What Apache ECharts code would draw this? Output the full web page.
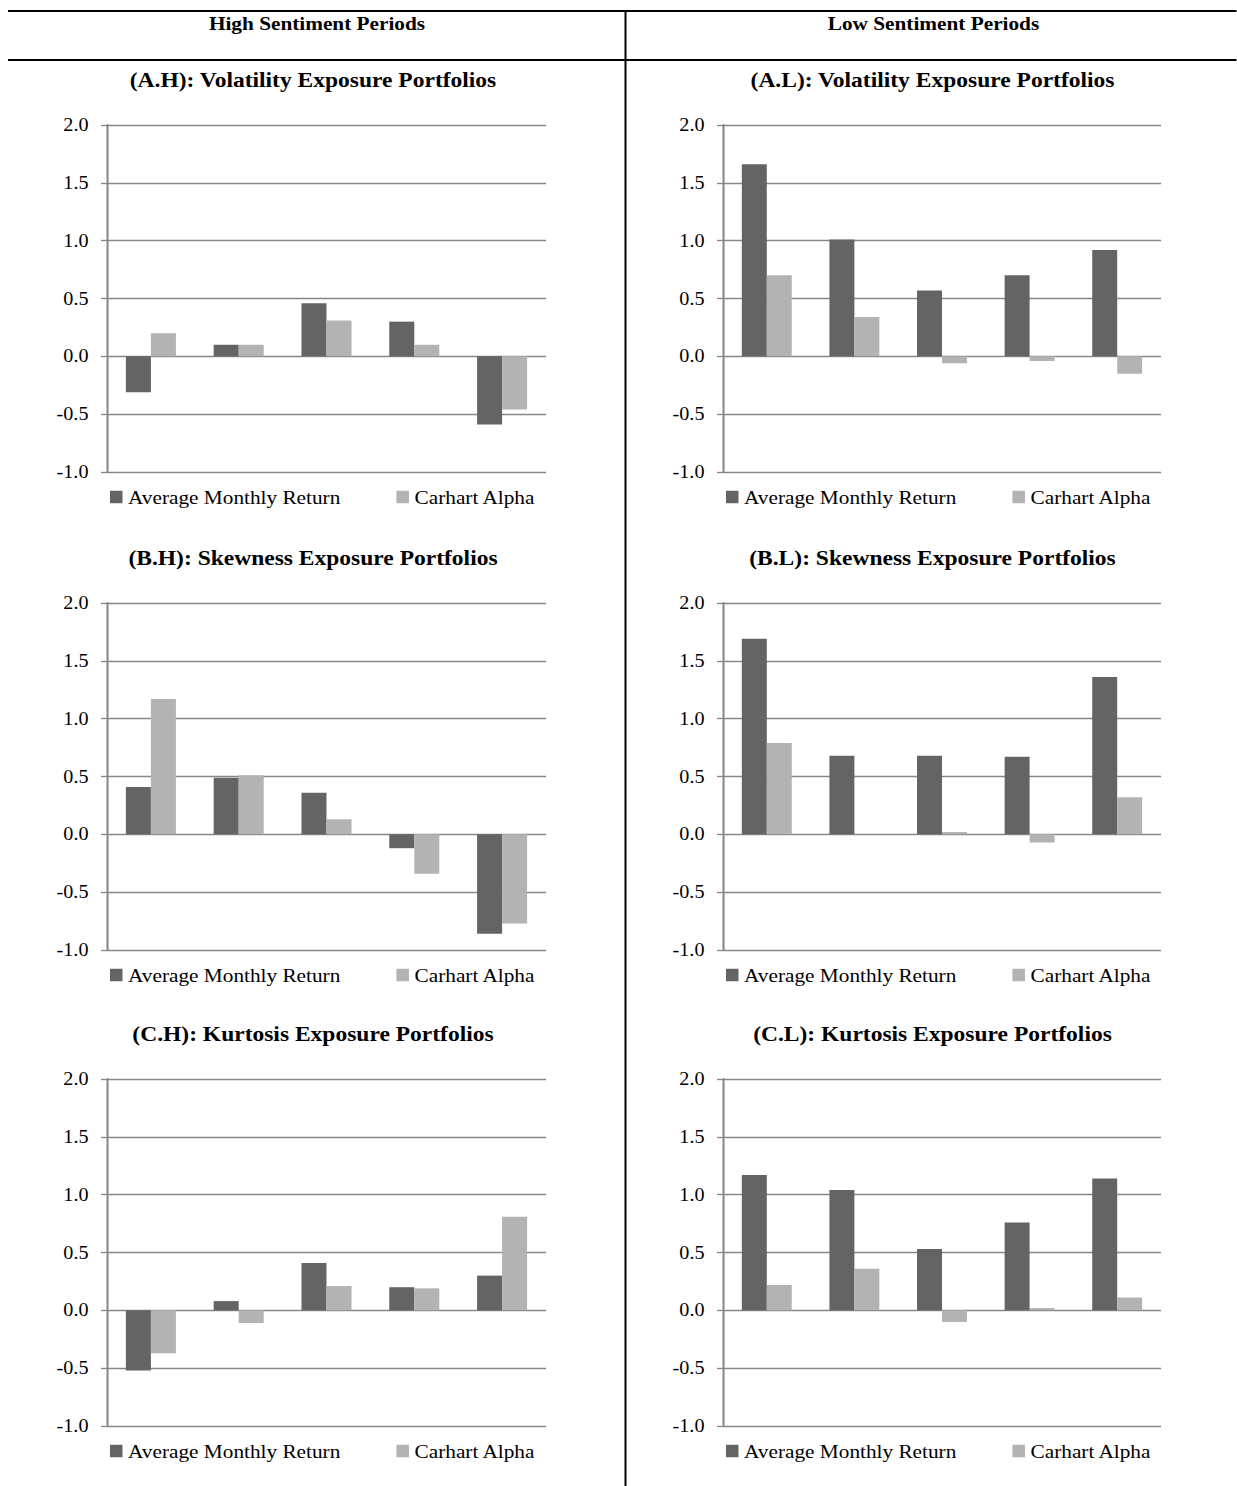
<!DOCTYPE html>
<html>
<head>
<meta charset="utf-8">
<title>Sentiment and Higher-Moment Exposure Portfolios</title>
<script src="https://cdn.jsdelivr.net/npm/echarts/dist/echarts.min.js"></script>
<style>
  html, body { margin: 0; padding: 0; background: #fff; overflow: hidden; }
  #wrap { width: 1237px; height: 1486px; overflow: hidden; }
  #chart { height: 1486px; transform-origin: 0 0; }
</style>
</head>
<body>
<div id="wrap"><div id="chart"></div></div>
<script>
// ---- data ----
const portfolios = ['P1', 'P2', 'P3', 'P4', 'P5'];
const seriesNames = ['Average Monthly Return', 'Carhart Alpha'];
const yTicks = [-1.0, -0.5, 0.0, 0.5, 1.0, 1.5, 2.0];
const columnHeaders = ['High Sentiment Periods', 'Low Sentiment Periods'];
const panelTitles = [
  '(A.H): Volatility Exposure Portfolios', '(A.L): Volatility Exposure Portfolios',
  '(B.H): Skewness Exposure Portfolios',   '(B.L): Skewness Exposure Portfolios',
  '(C.H): Kurtosis Exposure Portfolios',   '(C.L): Kurtosis Exposure Portfolios'
];

const volHighReturn  = [-0.31, 0.10, 0.46, 0.30, -0.59];
const volHighAlpha   = [0.20, 0.10, 0.31, 0.10, -0.46];
const volLowReturn   = [1.66, 1.01, 0.57, 0.70, 0.92];
const volLowAlpha    = [0.70, 0.34, -0.06, -0.04, -0.15];
const skewHighReturn = [0.41, 0.49, 0.36, -0.12, -0.86];
const skewHighAlpha  = [1.17, 0.51, 0.13, -0.34, -0.77];
const skewLowReturn  = [1.69, 0.68, 0.68, 0.67, 1.36];
const skewLowAlpha   = [0.79, 0.00, 0.02, -0.07, 0.32];
const kurtHighReturn = [-0.52, 0.08, 0.41, 0.20, 0.30];
const kurtHighAlpha  = [-0.37, -0.11, 0.21, 0.19, 0.81];
const kurtLowReturn  = [1.17, 1.04, 0.53, 0.76, 1.14];
const kurtLowAlpha   = [0.22, 0.36, -0.10, 0.02, 0.11];

const panelData = [
  [volHighReturn, volHighAlpha],   [volLowReturn, volLowAlpha],
  [skewHighReturn, skewHighAlpha], [skewLowReturn, skewLowAlpha],
  [kurtHighReturn, kurtHighAlpha], [kurtLowReturn, kurtLowAlpha]
];

// ---- layout ----
// The page text is set in a slightly widened serif: the whole drawing is
// laid out in a narrower space and stretched horizontally by SX.
const SX = 1.12;
const PAGE_W = 1237, PAGE_H = 1486;
const W0 = PAGE_W / SX;
const cx = x => x / SX;

const colLeft = [107, 723];
const colRight = [546, 1161];
const colCenter = [313, 932.5];
const headerCenter = [317, 933.5];
const rowTop = [125, 603, 1079];
const plotH = 347;
const legendLeft = [110, 726];

const SERIF = '"Liberation Serif", "Times New Roman", Times, serif';
const COLORS = ['#646464', '#b3b3b3'];

const dom = document.getElementById('chart');
dom.style.width = W0 + 'px';
dom.style.transform = 'scaleX(' + SX + ')';

const chart = echarts.init(dom, null, { renderer: 'svg', width: W0, height: PAGE_H });

const grids = [], xAxes = [], yAxes = [], series = [], legends = [], graphics = [];

panelData.forEach((pair, i) => {
  const col = i % 2, row = Math.floor(i / 2);
  grids.push({
    left: cx(colLeft[col]),
    width: cx(colRight[col] - colLeft[col]),
    top: rowTop[row],
    height: plotH,
    outerBoundsMode: 'none',
    containLabel: false
  });
  xAxes.push({
    type: 'category', gridIndex: i, data: portfolios,
    axisLine: { show: false }, axisTick: { show: false },
    axisLabel: { show: false }, splitLine: { show: false }
  });
  yAxes.push({
    type: 'value', gridIndex: i,
    min: yTicks[0], max: yTicks[yTicks.length - 1], interval: 0.5,
    axisLine: { show: true, lineStyle: { color: '#858585', width: 1.8 } },
    axisTick: { show: true, inside: false, length: cx(6), lineStyle: { color: '#878787', width: 1.3 } },
    axisLabel: {
      margin: cx(18.5), fontFamily: SERIF, fontSize: 18, color: '#000',
      formatter: v => Number(v).toFixed(1)
    },
    splitLine: { show: true, lineStyle: { color: '#878787', width: 1.3 } }
  });
  pair.forEach((vals, k) => {
    series.push({
      type: 'bar', name: seriesNames[k],
      xAxisIndex: i, yAxisIndex: i,
      data: vals,
      barGap: '0%', barCategoryGap: '43%',
      itemStyle: { color: COLORS[k] },
      emphasis: { disabled: true },
      animation: false
    });
  });
  legends.push({
    data: seriesNames,
    left: cx(legendLeft[col]),
    top: rowTop[row] + plotH + 15,
    padding: 0,
    icon: 'rect',
    itemWidth: cx(12.5), itemHeight: 12.5, itemGap: 50,
    selectedMode: false,
    textStyle: { fontFamily: SERIF, fontSize: 19, color: '#000', lineHeight: 20 }
  });
  graphics.push({
    type: 'text', x: cx(colCenter[col]), y: rowTop[row] - 44.8,
    style: {
      text: panelTitles[i], fill: '#000',
      font: 'bold 21px ' + SERIF,
      align: 'center', verticalAlign: 'middle',
      textAlign: 'center', textVerticalAlign: 'middle'
    }
  });
});

// table rules and column headers
graphics.push(
  { type: 'line', shape: { x1: cx(8), y1: 11, x2: W0, y2: 11 }, style: { stroke: '#000', lineWidth: 2 } },
  { type: 'line', shape: { x1: cx(8), y1: 60, x2: W0, y2: 60 }, style: { stroke: '#000', lineWidth: 2 } },
  { type: 'line', shape: { x1: cx(625.5), y1: 11, x2: cx(625.5), y2: PAGE_H }, style: { stroke: '#000', lineWidth: 2 / SX } }
);
columnHeaders.forEach((h, c) => {
  graphics.push({
    type: 'text', x: cx(headerCenter[c]), y: 23,
    style: {
      text: h, fill: '#000', font: 'bold 19px ' + SERIF,
      align: 'center', verticalAlign: 'middle',
      textAlign: 'center', textVerticalAlign: 'middle'
    }
  });
});

chart.setOption({
  backgroundColor: '#fff',
  animation: false,
  grid: grids,
  xAxis: xAxes,
  yAxis: yAxes,
  legend: legends,
  series: series,
  graphic: { elements: graphics }
});
</script>
</body>
</html>
